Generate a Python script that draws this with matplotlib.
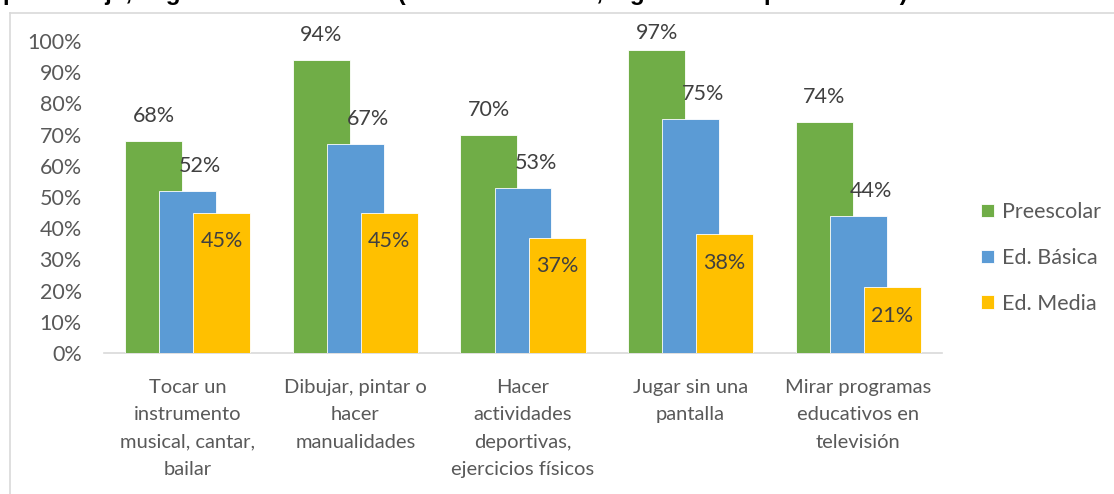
import matplotlib
matplotlib.use("Agg")
import matplotlib.pyplot as plt
from matplotlib.lines import Line2D
import numpy as np

categories = ["Tocar un\ninstrumento\nmusical, cantar,\nbailar",
              "Dibujar, pintar o\nhacer\nmanualidades",
              "Hacer\nactividades\ndeportivas,\nejercicios físicos",
              "Jugar sin una\npantalla",
              "Mirar programas\neducativos en\ntelevisión"]
series_names = ["Preescolar", "Ed. Básica", "Ed. Media"]
preescolar = [68, 94, 70, 97, 74]
basica = [52, 67, 53, 75, 44]
media = [45, 45, 37, 38, 21]
yticks = [0, 10, 20, 30, 40, 50, 60, 70, 80, 90, 100]
title = "porcentaje, según nivel educativo (% todos los días, algunos días por semana)."

colors = ["#70AD47", "#5B9BD5", "#FFC000"]
W, H = 1114, 494
fig = plt.figure(figsize=(W / 100, H / 100), dpi=100)
plt.rcParams['font.family'] = ['Lato', 'DejaVu Sans']

left, right = 104 / W, 942 / W
bottom, top = 1 - 353 / H, 1 - 41 / H
ax = fig.add_axes([left, bottom, right - left, top - bottom])

x = np.arange(len(categories))
bw = 0.34
step = 0.203
allvals = [preescolar, basica, media]
bars = []
for i, (vals, c, name) in enumerate(zip(allvals, colors, series_names)):
    b = ax.bar(x + (i - 1) * step, vals, width=bw, color=c, label=name,
               edgecolor="white", linewidth=0.6, zorder=2 + i)
    bars.append(b)

fs = 15.5
lab_color = "#404040"
above = 8.0      # label offset above bar, in % units (~25 px)
ymax_lab = 102.6  # labels kept inside chart area
for j in range(len(categories)):
    ax.text(x[j] - step, min(preescolar[j] + above, ymax_lab), f"{preescolar[j]}%",
            ha="center", va="center", fontsize=fs, color=lab_color, zorder=10)
    ax.annotate(f"{basica[j]}%", (x[j], min(basica[j] + above, ymax_lab)),
                xytext=(9, 0), textcoords="offset points", ha="center",
                va="center", fontsize=fs, color=lab_color, zorder=10)
    ax.text(x[j] + step, media[j] - 9.2, f"{media[j]}%",
            ha="center", va="center", fontsize=fs, color=lab_color, zorder=10)

ax.set_xlim(-0.5, len(categories) - 0.5)
ax.set_ylim(0, 100)
ax.set_yticks(yticks)
ax.set_yticklabels([f"{t}%" for t in yticks], fontsize=fs, color="#595959")
ax.set_xticks(x)
ax.set_xticklabels(categories, fontsize=14.5, color="#595959", linespacing=1.72,
                   va="top")
ax.tick_params(axis="both", length=0)
ax.tick_params(axis="y", pad=16)
ax.tick_params(axis="x", pad=19)
for s in ["top", "right", "left"]:
    ax.spines[s].set_visible(False)
ax.spines["bottom"].set_color("#D9D9D9")
ax.spines["bottom"].set_linewidth(1.2)
ax.spines["bottom"].set_zorder(1)

leg = fig.legend(handles=bars, labels=series_names, loc="center left",
                 bbox_to_anchor=(962 / W, 1 - 258 / H), frameon=False,
                 fontsize=fs, labelcolor="#595959", handlelength=0.6,
                 handleheight=0.6, handletextpad=0.35, labelspacing=1.2)

# chart border
fig.add_artist(Line2D([9.5 / W, 9.5 / W], [0, 1 - 13 / H], color="#D9D9D9", lw=1.2))
fig.add_artist(Line2D([9.5 / W, 1], [1 - 13 / H, 1 - 13 / H], color="#D9D9D9", lw=1.2))

fig.text(3 / W, 1 + 0.5 / H, title, fontsize=17.4, fontweight="bold",
         family="Liberation Sans", color="black", ha="left", va="baseline")

fig.savefig("out.png", dpi=100, facecolor="white")
